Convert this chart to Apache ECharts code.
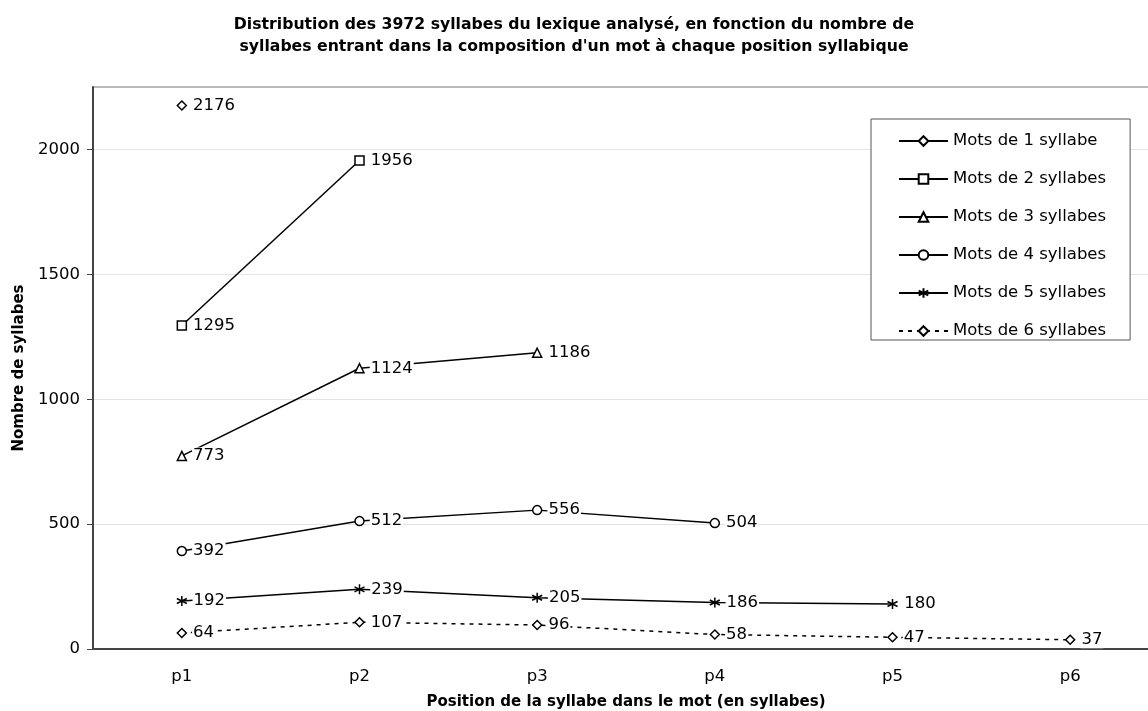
<!DOCTYPE html>
<html>
<head>
<meta charset="utf-8">
<script src="https://cdn.jsdelivr.net/npm/echarts@6/dist/echarts.min.js"></script>
<style>
  html, body { margin: 0; padding: 0; background: #fff; }
  #chart { width: 1148px; height: 711px; }
</style>
</head>
<body>
<div id="chart"></div>
<script>
const positions = ['p1', 'p2', 'p3', 'p4', 'p5', 'p6']
const seriesNames = ['Mots de 1 syllabe', 'Mots de 2 syllabes', 'Mots de 3 syllabes',
  'Mots de 4 syllabes', 'Mots de 5 syllabes', 'Mots de 6 syllabes']
const mots1 = [2176]
const mots2 = [1295, 1956]
const mots3 = [773, 1124, 1186]
const mots4 = [392, 512, 556, 504]
const mots5 = [192, 239, 205, 186, 180]
const mots6 = [64, 107, 96, 58, 47, 37]
const yTicks = [0, 500, 1000, 1500, 2000]

const FONT = 'DejaVu Sans'
const asterisk = 'path://M5,0L5,10M0.7,2.5L9.3,7.5M0.7,7.5L9.3,2.5'

const makeSeries = (name, data, symbol, size, dashed) => ({
  name: name,
  type: 'line',
  data: data,
  symbol: symbol,
  symbolSize: size,
  showAllSymbol: true,
  lineStyle: { color: '#000', width: 1.5, type: dashed ? [4, 5] : 'solid' },
  itemStyle: { color: '#fff', borderColor: '#000', borderWidth: 1.5 },
  label: {
    show: true,
    position: 'right',
    distance: 5,
    color: '#000',
    fontFamily: FONT,
    fontSize: 16.5,
    backgroundColor: '#fff',
    padding: [0, 1]
  },
  emphasis: { disabled: true }
})

const chart = echarts.init(document.getElementById('chart'))
const option = {
  animation: false,
  title: {
    text: "Distribution des 3972 syllabes du lexique analysé, en fonction du nombre de\nsyllabes entrant dans la composition d'un mot à chaque position syllabique",
    left: 'center',
    top: 9,
    textStyle: { fontFamily: FONT, fontWeight: 'bold', fontSize: 15.7, lineHeight: 22, color: '#000' }
  },
  legend: {
    orient: 'vertical',
    left: 871,
    top: 119,
    padding: [13, 24, 0, 27],
    itemWidth: 49,
    itemHeight: 12,
    itemGap: 20,
    backgroundColor: '#fff',
    borderColor: '#555',
    borderWidth: 1,
    textStyle: { fontFamily: FONT, fontSize: 16.5, lineHeight: 18, color: '#000' },
    data: seriesNames
  },
  grid: {
    left: 93, width: 1066, top: 87, bottom: 62,
    outerBoundsMode: 'none',
    containLabel: false,
    show: true,
    borderColor: '#777',
    borderWidth: 1
  },
  xAxis: {
    type: 'category',
    data: positions,
    boundaryGap: true,
    name: 'Position de la syllabe dans le mot (en syllabes)',
    nameLocation: 'middle',
    nameGap: 46,
    nameTextStyle: { fontFamily: FONT, fontWeight: 'bold', fontSize: 15, color: '#000' },
    axisLine: { lineStyle: { color: '#444', width: 2 } },
    axisTick: { length: 5, lineStyle: { color: '#444' } },
    axisLabel: { margin: 19, fontFamily: FONT, fontSize: 16.5, color: '#000' }
  },
  yAxis: {
    type: 'value',
    min: 0,
    max: 2250,
    interval: 500,
    name: 'Nombre de syllabes',
    nameLocation: 'middle',
    nameGap: 66,
    nameTextStyle: { fontFamily: FONT, fontWeight: 'bold', fontSize: 15, color: '#000' },
    axisLine: { show: true, lineStyle: { color: '#444', width: 2 } },
    axisTick: { show: true, length: 6, customValues: yTicks, lineStyle: { color: '#444' } },
    axisLabel: {
      margin: 13, customValues: yTicks, fontFamily: FONT, fontSize: 16.5, color: '#000',
      formatter: v => String(v)
    },
    splitLine: { show: true, lineStyle: { color: '#e4e4e4', width: 1 } }
  },
  series: [
    makeSeries(seriesNames[0], mots1, 'diamond', 9, false),
    makeSeries(seriesNames[1], mots2, 'rect', 9, false),
    makeSeries(seriesNames[2], mots3, 'triangle', 9, false),
    makeSeries(seriesNames[3], mots4, 'circle', 9, false),
    makeSeries(seriesNames[4], mots5, asterisk, 10, false),
    makeSeries(seriesNames[5], mots6, 'diamond', 9, true)
  ]
}
chart.setOption(option)
</script>
</body>
</html>
